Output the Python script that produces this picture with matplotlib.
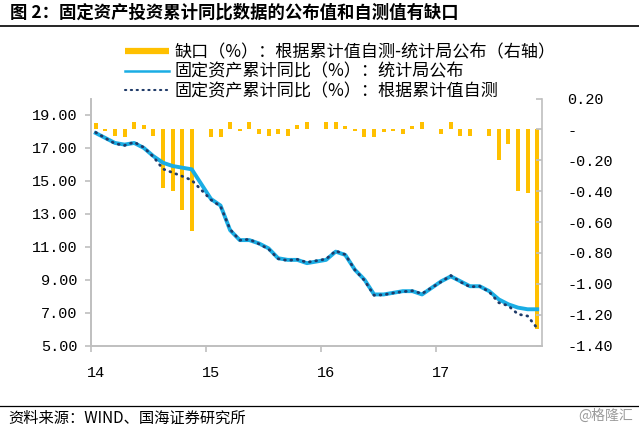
import matplotlib
matplotlib.use('Agg')
import matplotlib.pyplot as plt
from matplotlib.lines import Line2D
from matplotlib.ticker import FuncFormatter
import numpy as np

plt.rcParams['font.family'] = ['Noto Sans CJK SC', 'DejaVu Sans']

# Feb 2014 .. Dec 2017, one slot per month; January has no data (None)
published = [17.9, 17.6, 17.3, 17.2, 17.3, 17.0, 16.5, 16.1, 15.9, 15.8, 15.7, None,
             13.9, 13.5, 12.0, 11.4, 11.4, 11.2, 10.9, 10.3, 10.2, 10.2, 10.0, None,
             10.2, 10.7, 10.5, 9.6, 9.0, 8.1, 8.1, 8.2, 8.3, 8.3, 8.1, None,
             8.9, 9.2, 8.9, 8.6, 8.6, 8.3, 7.8, 7.5, 7.3, 7.2, 7.2]
self_calc = [17.94, 17.59, 17.26, 17.15, 17.35, 17.03, 16.46, 15.72, 15.50, 15.28, 15.04, None,
             13.85, 13.45, 12.05, 11.39, 11.45, 11.17, 10.86, 10.27, 10.16, 10.23, 10.05, None,
             10.25, 10.75, 10.52, 9.59, 8.95, 8.05, 8.08, 8.19, 8.27, 8.32, 8.15, None,
             8.87, 9.25, 8.86, 8.56, 8.60, 8.26, 7.60, 7.41, 6.90, 6.79, 6.05]
gap = [0.04, -0.01, -0.04, -0.05, 0.05, 0.03, -0.04, -0.38, -0.40, -0.52, -0.66, None,
       -0.05, -0.05, 0.05, -0.01, 0.05, -0.03, -0.04, -0.03, -0.04, 0.03, 0.045, None,
       0.045, 0.05, 0.02, -0.01, -0.05, -0.05, -0.02, -0.01, -0.03, 0.02, 0.045, None,
       -0.03, 0.045, -0.04, -0.04, 0.005, -0.04, -0.20, -0.095, -0.40, -0.415, -1.29]
year_labels = ['14', '15', '16', '17']

label_gap = '缺口（%）：根据累计值自测-统计局公布（右轴）'
label_pub = '固定资产累计同比（%）：统计局公布'
label_self = '固定资产累计同比（%）：根据累计值自测'

pub = np.array(published, dtype=float)
slf = np.array(self_calc, dtype=float)
gp = np.array(gap, dtype=float)
x = np.arange(len(pub))

gold = '#FFC000'
blue = '#1AADE4'
navy = '#1F3A68'
grey = '#BFBFBF'
num_font = 'Liberation Mono'

fig = plt.figure(figsize=(6.39, 4.29), dpi=100)
ax = fig.add_axes([91 / 639, 1 - 345.5 / 429, (542 - 91) / 639, (345.5 - 98.5) / 429])
ax2 = ax.twinx()

ax2.bar(x[~np.isnan(gp)], gp[~np.isnan(gp)], width=0.42, color=gold)
m = ~np.isnan(pub)
ax.plot(x[m], pub[m], color=blue, lw=2.8, solid_joinstyle='round')
m = ~np.isnan(slf)
ax.plot(x[m], slf[m], color=navy, lw=2.0, linestyle=(0, (0.3, 2.0)),
        dash_capstyle='round')

ax.set_zorder(ax2.get_zorder() + 1)
ax.patch.set_visible(False)

ax.set_xlim(-0.5, len(pub) - 0.5)
ax.set_ylim(5, 20)
ax2.set_ylim(-1.4, 0.2)

ax.set_yticks(np.arange(5, 20, 2))
ax.yaxis.set_major_formatter(FuncFormatter(lambda v, p: f'{v:.2f}'))
ax2.set_yticks(np.arange(-1.4, 0.21, 0.2))
ax2.yaxis.set_major_formatter(
    FuncFormatter(lambda v, p: '-' if abs(v) < 1e-9 else f'{v:.2f}'))

ax.set_xticks([-0.5, 11.5, 23.5, 35.5])
ax.set_xticklabels([])
ax.set_xticks([0, 12, 24, 36], minor=True)
ax.set_xticklabels(year_labels, minor=True)

for a in (ax, ax2):
    for s in a.spines.values():
        s.set_color(grey)
        s.set_linewidth(1.2)
    a.spines['top'].set_visible(False)
ax.spines['right'].set_visible(False)

ax.tick_params(axis='y', direction='out', length=4, color=grey, width=1.2, pad=6)
ax.tick_params(axis='x', which='major', direction='out', length=4, color=grey, width=1.2)
ax.tick_params(axis='x', which='minor', length=0, pad=15)
ax2.tick_params(axis='y', direction='in', length=4, color=grey, width=1.2, pad=18)
for lab in ax.get_yticklabels() + ax.get_xticklabels(minor=True) + ax2.get_yticklabels():
    lab.set_fontfamily(num_font)
    lab.set_fontsize(11)

handles = [Line2D([], [], color=gold, lw=4.5, solid_capstyle='butt'),
           Line2D([], [], color=blue, lw=1.8),
           Line2D([], [], color=navy, lw=1.5, linestyle=(0, (0.6, 2.2)), dash_capstyle='round')]
fig.legend(handles, [label_gap, label_pub, label_self], loc='upper left',
           bbox_to_anchor=(125 / 639, 1 - 43 / 429), frameon=False, borderpad=0,
           borderaxespad=0, handlelength=2.6, handletextpad=0.3, labelspacing=0.1,
           fontsize=12.3)

fig.text(10 / 639, 1 - 13 / 429, '图 2：固定资产投资累计同比数据的公布值和自测值有缺口',
         fontsize=12.5, fontweight='bold', va='center', ha='left')
fig.add_artist(Line2D([0, 1], [1 - 25.5 / 429] * 2, transform=fig.transFigure,
                      color='black', lw=1.2))
fig.add_artist(Line2D([0, 1], [1 - 406 / 429] * 2, transform=fig.transFigure,
                      color='black', lw=0.9))
fig.text(8 / 639, 1 - 418 / 429, '资料来源：WIND、国海证券研究所', fontsize=11,
         va='center', ha='left')
fig.text(633 / 639, 1 - 416 / 429, '@格隆汇', fontsize=10, color='#9A9A9A',
         va='center', ha='right')

fig.savefig('out.png', dpi=100)
